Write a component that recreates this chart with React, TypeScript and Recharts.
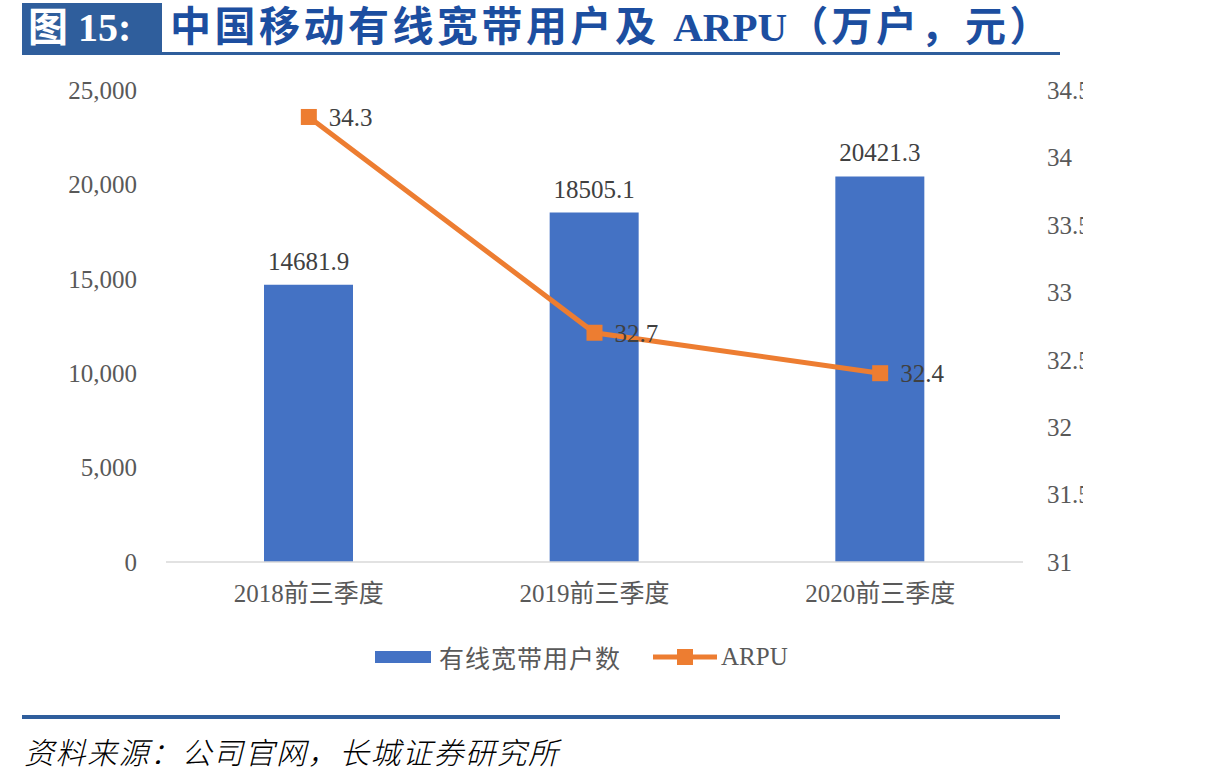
import { ComposedChart, Bar, Line, XAxis, YAxis, LabelList } from 'recharts';

const categories = ['2018前三季度', '2019前三季度', '2020前三季度'];
const users = [14681.9, 18505.1, 20421.3];
const arpu = [34.3, 32.7, 32.4];
const leftTicks = [0, 5000, 10000, 15000, 20000, 25000];
const rightTicks = [31, 31.5, 32, 32.5, 33, 33.5, 34, 34.5];

const data = categories.map((name, i) => ({ name, users: users[i], arpu: arpu[i] }));

const SERIF = '"Liberation Serif", "Times New Roman", "Noto Sans CJK SC", serif';
const BLUE = '#4472c4';
const ORANGE = '#ed7d31';
const FRAME = '#2f5e9c';

function SquareDot(props: any) {
  const { cx, cy } = props;
  if (cx == null || cy == null) return null;
  return <rect x={cx - 8} y={cy - 8} width={16} height={16} fill={ORANGE} />;
}

const fmtLeft = (v: number) => v.toLocaleString('en-US');

export default function App() {
  return (
    <div style={{ position: 'absolute', left: 0, top: 0, width: 1214, height: 784, background: '#fff', fontFamily: SERIF }}>
      {/* title bar */}
      <div style={{ position: 'absolute', left: 22, top: 3, width: 140, height: 49, background: FRAME, color: '#fff', fontSize: 40, fontWeight: 'bold', lineHeight: '49px', paddingLeft: 6, boxSizing: 'border-box' }}>
        图 15:
      </div>
      <div style={{ position: 'absolute', left: 170, top: 3, height: 49, lineHeight: '49px', fontSize: 41, letterSpacing: 3.5, fontWeight: 'bold', color: '#1c4ea0', whiteSpace: 'nowrap' }}>
        中国移动有线宽带用户及 <span style={{ letterSpacing: 0 }}>ARPU</span>（万户，元）
      </div>
      <div style={{ position: 'absolute', left: 22, top: 52, width: 1038, height: 3, background: FRAME }} />

      {/* svg width stops at 1083 so the right-hand tick labels are cut as in the source */}
      <div style={{ position: 'absolute', left: 0, top: 0 }}>
        <ComposedChart width={1083} height={700} data={data} margin={{ top: 90, right: 0, bottom: 108, left: 0 }}>
          <XAxis
            dataKey="name"
            axisLine={{ stroke: '#d9d9d9', strokeWidth: 1.5 }}
            tickLine={false}
            tickSize={0}
            tickMargin={22}
            height={30}
            tick={{ fill: '#595959', fontSize: 25, fontFamily: SERIF }}
          />
          <YAxis
            yAxisId="left"
            width={166}
            domain={[0, 25000]}
            ticks={leftTicks}
            tickFormatter={fmtLeft}
            axisLine={false}
            tickLine={false}
            tickSize={0}
            tickMargin={29}
            tick={{ fill: '#595959', fontSize: 25, fontFamily: SERIF }}
          />
          <YAxis
            yAxisId="right"
            orientation="right"
            width={60}
            domain={[31, 34.5]}
            ticks={rightTicks}
            axisLine={false}
            tickLine={false}
            tickSize={0}
            tickMargin={24}
            tick={{ fill: '#595959', fontSize: 25, fontFamily: SERIF, textAnchor: 'start' }}
          />
          <Bar yAxisId="left" dataKey="users" fill={BLUE} barSize={89} isAnimationActive={false}>
            <LabelList dataKey="users" position="top" offset={15} fill="#404040" fontSize={25} fontFamily={SERIF} />
          </Bar>
          <Line
            yAxisId="right"
            dataKey="arpu"
            stroke={ORANGE}
            strokeWidth={5}
            dot={<SquareDot />}
            activeDot={false}
            isAnimationActive={false}
          >
            <LabelList dataKey="arpu" position="right" offset={20} fill="#404040" fontSize={25} fontFamily={SERIF} />
          </Line>
        </ComposedChart>
      </div>

      {/* legend */}
      <div style={{ position: 'absolute', left: 375, top: 640, height: 34, display: 'flex', alignItems: 'center', color: '#595959', fontSize: 25, whiteSpace: 'nowrap' }}>
        <span style={{ display: 'inline-block', width: 56, height: 12, background: BLUE, marginRight: 8 }} />
        <span style={{ letterSpacing: 1 }}>有线宽带用户数</span>
        <svg width={64} height={20} style={{ marginLeft: 32, marginRight: 4 }}>
          <line x1={0} y1={10} x2={64} y2={10} stroke={ORANGE} strokeWidth={5} />
          <rect x={24} y={2} width={16} height={16} fill={ORANGE} />
        </svg>
        <span>ARPU</span>
      </div>

      <div style={{ position: 'absolute', left: 22, top: 715, width: 1038, height: 4, background: FRAME }} />
      <div style={{ position: 'absolute', left: 24, top: 729, fontSize: 30, letterSpacing: 1.5, fontStyle: 'italic', color: '#000', whiteSpace: 'nowrap', fontFamily: '"Noto Sans CJK SC", sans-serif', fontWeight: 300 }}>
        资料来源：公司官网，长城证券研究所
      </div>
    </div>
  );
}
